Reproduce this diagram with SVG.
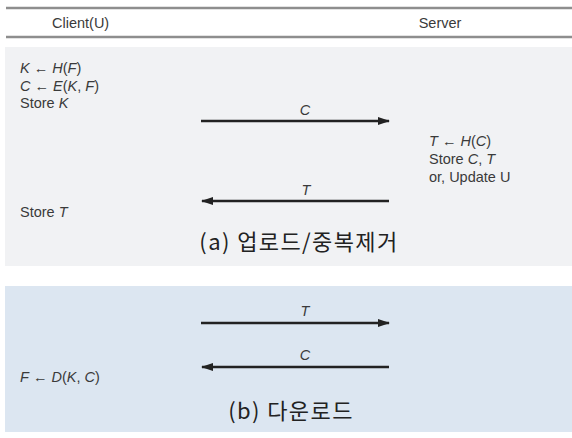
<svg xmlns="http://www.w3.org/2000/svg" width="572" height="438" viewBox="0 0 572 438">
<style>
.t{font-family:"Liberation Sans","Noto Sans CJK KR",sans-serif;font-size:14.5px;fill:#3a3a3a}
.i{font-style:italic}
.cap{font-family:"Noto Sans CJK KR","Liberation Sans",sans-serif;font-size:22px;letter-spacing:1.4px;fill:#222}
.hl{stroke:#8e8e8e;stroke-width:2.5}
.ar{stroke:#222;stroke-width:2.5;fill:none}
</style>
<defs>
<marker id="ah" viewBox="0 0 12 8" refX="11" refY="4" markerWidth="12" markerHeight="8" markerUnits="userSpaceOnUse" orient="auto">
<path d="M0,0 L12,4 L0,8 Z" fill="#222"/>
</marker>
</defs>
<rect width="572" height="438" fill="#fff"/>
<g id="header">
<line class="hl" x1="6" y1="8" x2="572" y2="8"/>
<line class="hl" x1="6" y1="37" x2="572" y2="37"/>
<text class="t" x="52" y="28">Client(U)</text>
<text class="t" x="440" y="28" text-anchor="middle">Server</text>
</g>
<g id="panel-a">
<rect x="5" y="47" width="567" height="219" fill="#f1f2f4"/>
<text class="t" x="20" y="73"><tspan class="i">K</tspan> ← <tspan class="i">H</tspan>(<tspan class="i">F</tspan>)</text>
<text class="t" x="20" y="91"><tspan class="i">C</tspan> ← <tspan class="i">E</tspan>(<tspan class="i">K</tspan>, <tspan class="i">F</tspan>)</text>
<text class="t" x="20" y="108">Store <tspan class="i">K</tspan></text>
<text class="t" x="20" y="217">Store <tspan class="i">T</tspan></text>
<text class="t" x="429" y="146"><tspan class="i">T</tspan> ← <tspan class="i">H</tspan>(<tspan class="i">C</tspan>)</text>
<text class="t" x="429" y="164">Store <tspan class="i">C</tspan>, <tspan class="i">T</tspan></text>
<text class="t" x="429" y="182">or, Update U</text>
<text class="cap" x="299" y="250" text-anchor="middle">(a) 업로드/중복제거</text>
</g>
<g id="panel-b">
<rect x="5" y="286" width="567" height="146" fill="#dce6f1"/>
<text class="t" x="20" y="382"><tspan class="i">F</tspan> ← <tspan class="i">D</tspan>(<tspan class="i">K</tspan>, <tspan class="i">C</tspan>)</text>
<text class="cap" x="291" y="419" text-anchor="middle">(b) 다운로드</text>
</g>
<g id="connectors">
<line class="ar" x1="201" y1="121" x2="389" y2="121" marker-end="url(#ah)"/>
<text class="t i" x="305" y="115" text-anchor="middle">C</text>
<line class="ar" x1="389" y1="201" x2="202" y2="201" marker-end="url(#ah)"/>
<text class="t i" x="306" y="195" text-anchor="middle">T</text>
<line class="ar" x1="201" y1="323" x2="389" y2="323" marker-end="url(#ah)"/>
<text class="t i" x="305" y="316" text-anchor="middle">T</text>
<line class="ar" x1="389" y1="367" x2="202" y2="367" marker-end="url(#ah)"/>
<text class="t i" x="305" y="360" text-anchor="middle">C</text>
</g>
</svg>
